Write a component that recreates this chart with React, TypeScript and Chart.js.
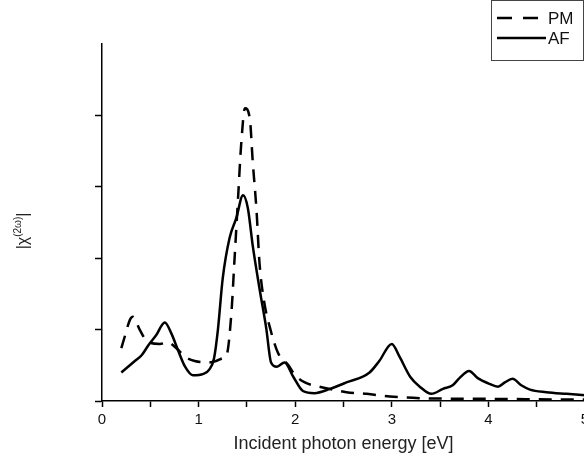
import { useEffect, useRef } from 'react';
import { Chart, registerables } from 'chart.js';

Chart.register(...registerables);

// ---- Data ----
const afEnergy = [0.20, 0.34, 0.41, 0.48, 0.56, 0.65, 0.72, 0.79, 0.86, 0.94, 1.05, 1.11, 1.16, 1.20, 1.25, 1.32, 1.39, 1.46, 1.51, 1.56, 1.63, 1.70, 1.75, 1.81, 1.89, 1.98, 2.08, 2.20, 2.36, 2.53, 2.77, 2.87, 3.00, 3.08, 3.19, 3.29, 3.41, 3.53, 3.63, 3.70, 3.80, 3.89, 4.01, 4.10, 4.17, 4.25, 4.34, 4.43, 4.60, 4.81, 5.00];
const afChi = [0.20, 0.28, 0.32, 0.39, 0.46, 0.55, 0.47, 0.35, 0.24, 0.18, 0.19, 0.22, 0.30, 0.50, 0.86, 1.14, 1.28, 1.44, 1.35, 1.09, 0.79, 0.51, 0.27, 0.24, 0.27, 0.17, 0.07, 0.055, 0.085, 0.13, 0.20, 0.28, 0.40, 0.31, 0.17, 0.10, 0.05, 0.085, 0.11, 0.16, 0.21, 0.16, 0.12, 0.10, 0.13, 0.155, 0.11, 0.08, 0.062, 0.05, 0.04];

const pmEnergy = [0.20, 0.235, 0.29, 0.32, 0.39, 0.44, 0.49, 0.60, 0.68, 0.77, 0.86, 0.96, 1.10, 1.18, 1.25, 1.29, 1.34, 1.37, 1.41, 1.44, 1.48, 1.53, 1.56, 1.60, 1.63, 1.68, 1.74, 1.82, 1.93, 2.00, 2.10, 2.25, 2.39, 2.53, 2.74, 2.98, 3.22, 3.39, 3.70, 4.00, 4.50, 5.00];
const pmChi = [0.37, 0.45, 0.57, 0.59, 0.50, 0.44, 0.41, 0.40, 0.41, 0.37, 0.31, 0.28, 0.27, 0.28, 0.30, 0.32, 0.62, 0.97, 1.44, 1.79, 2.05, 1.98, 1.68, 1.33, 0.97, 0.69, 0.51, 0.34, 0.25, 0.18, 0.13, 0.10, 0.08, 0.062, 0.05, 0.032, 0.022, 0.018, 0.016, 0.015, 0.012, 0.01];

const seriesLabels = ['PM', 'AF'];
const xTitle = 'Incident photon energy [eV]';
const xMin = 0;
const xMax = 5;
const yMin = 0;
const yMax = 2.5;

const FONT = 'Arial, "Liberation Sans", Helvetica, sans-serif';
const DASH = [13, 9];
const LEGEND_DASH = [15, 11];

const toPoints = (xs: number[], ys: number[]) => xs.map((x, i) => ({ x, y: ys[i] }));

const overlayPlugin = {
  id: 'overlay',
  afterDraw(chart: any) {
    const ctx: CanvasRenderingContext2D = chart.ctx;
    ctx.save();
    // Legend box
    ctx.strokeStyle = '#444';
    ctx.lineWidth = 1;
    ctx.strokeRect(491.5, 0.5, 92, 60);
    const rows = [18, 38];
    chart.data.datasets.forEach((ds: any, i: number) => {
      const y = rows[i];
      const dashed = ds.borderDash && ds.borderDash.length;
      ctx.beginPath();
      ctx.setLineDash(dashed ? LEGEND_DASH : []);
      ctx.lineWidth = ds.borderWidth;
      ctx.strokeStyle = ds.borderColor;
      ctx.moveTo(497, y);
      ctx.lineTo(dashed ? 539 : 546, y);
      ctx.stroke();
      ctx.setLineDash([]);
      ctx.fillStyle = '#111';
      ctx.font = `17px ${FONT}`;
      ctx.textBaseline = 'middle';
      ctx.textAlign = 'left';
      ctx.fillText(ds.label, 548, y + 1);
    });

    // Y axis title |χ^(2ω)|
    ctx.translate(28, 231);
    ctx.rotate(-Math.PI / 2);
    ctx.fillStyle = '#222';
    ctx.textBaseline = 'alphabetic';
    ctx.textAlign = 'left';
    const big = `16px ${FONT}`;
    const small = `10px ${FONT}`;
    ctx.font = big;
    const w1 = ctx.measureText('|χ').width;
    const w3 = ctx.measureText('|').width;
    ctx.font = small;
    const w2 = ctx.measureText('(2ω)').width;
    let x = -(w1 + w2 + w3) / 2;
    ctx.font = big;
    ctx.fillText('|χ', x, 0);
    x += w1;
    ctx.font = small;
    ctx.fillText('(2ω)', x, -7);
    x += w2;
    ctx.font = big;
    ctx.fillText('|', x, 0);
    ctx.restore();
  },
};

export default function App() {
  const ref = useRef<HTMLCanvasElement>(null);

  useEffect(() => {
    if (!ref.current) return;
    const chart = new Chart(ref.current, {
      type: 'line',
      data: {
        datasets: [
          {
            label: seriesLabels[0],
            data: toPoints(pmEnergy, pmChi),
            borderColor: '#000',
            borderWidth: 2.5,
            borderDash: DASH,
            pointRadius: 0,
            cubicInterpolationMode: 'monotone',
            fill: false,
          },
          {
            label: seriesLabels[1],
            data: toPoints(afEnergy, afChi),
            borderColor: '#000',
            borderWidth: 2.5,
            pointRadius: 0,
            cubicInterpolationMode: 'monotone',
            fill: false,
          },
        ],
      },
      options: {
        responsive: false,
        animation: false,
        devicePixelRatio: 1,
        layout: { padding: { top: 44, right: 15, left: 0, bottom: 0 } },
        plugins: {
          legend: { display: false },
          tooltip: { enabled: false },
        },
        scales: {
          x: {
            type: 'linear',
            min: xMin,
            max: xMax,
            afterFit: (s: any) => {
              s.height = 61;
            },
            ticks: {
              stepSize: 0.5,
              autoSkip: false,
              maxRotation: 0,
              padding: 4,
              color: '#111',
              font: { family: FONT, size: 15 },
              callback: (v: any) => (Number.isInteger(Number(v)) ? String(v) : ''),
            },
            grid: {
              drawOnChartArea: false,
              tickLength: 6,
              tickColor: '#000',
              tickWidth: 1.5,
            },
            border: { color: '#000', width: 1.5 },
            title: {
              display: true,
              text: xTitle,
              color: '#222',
              font: { family: FONT, size: 18 },
              padding: { top: 0, bottom: 7 },
            },
          },
          y: {
            type: 'linear',
            min: yMin,
            max: yMax,
            afterFit: (s: any) => {
              s.width = 102;
            },
            ticks: {
              stepSize: 0.5,
              padding: 0,
              callback: () => '',
            },
            grid: {
              drawOnChartArea: false,
              tickLength: 7,
              tickWidth: 1.5,
              tickColor: (c: any) => (c.tick && c.tick.value === yMax ? 'rgba(0,0,0,0)' : '#000'),
            },
            border: { color: '#000', width: 1.5 },
          },
        },
      },
      plugins: [overlayPlugin],
    } as any);
    return () => chart.destroy();
  }, []);

  return (
    <div
      style={{
        position: 'fixed',
        left: 0,
        top: 0,
        width: 584,
        height: 462,
        overflow: 'hidden',
        background: '#fff',
      }}
    >
      <canvas ref={ref} width={600} height={462} style={{ display: 'block', width: 600, height: 462 }} />
    </div>
  );
}
